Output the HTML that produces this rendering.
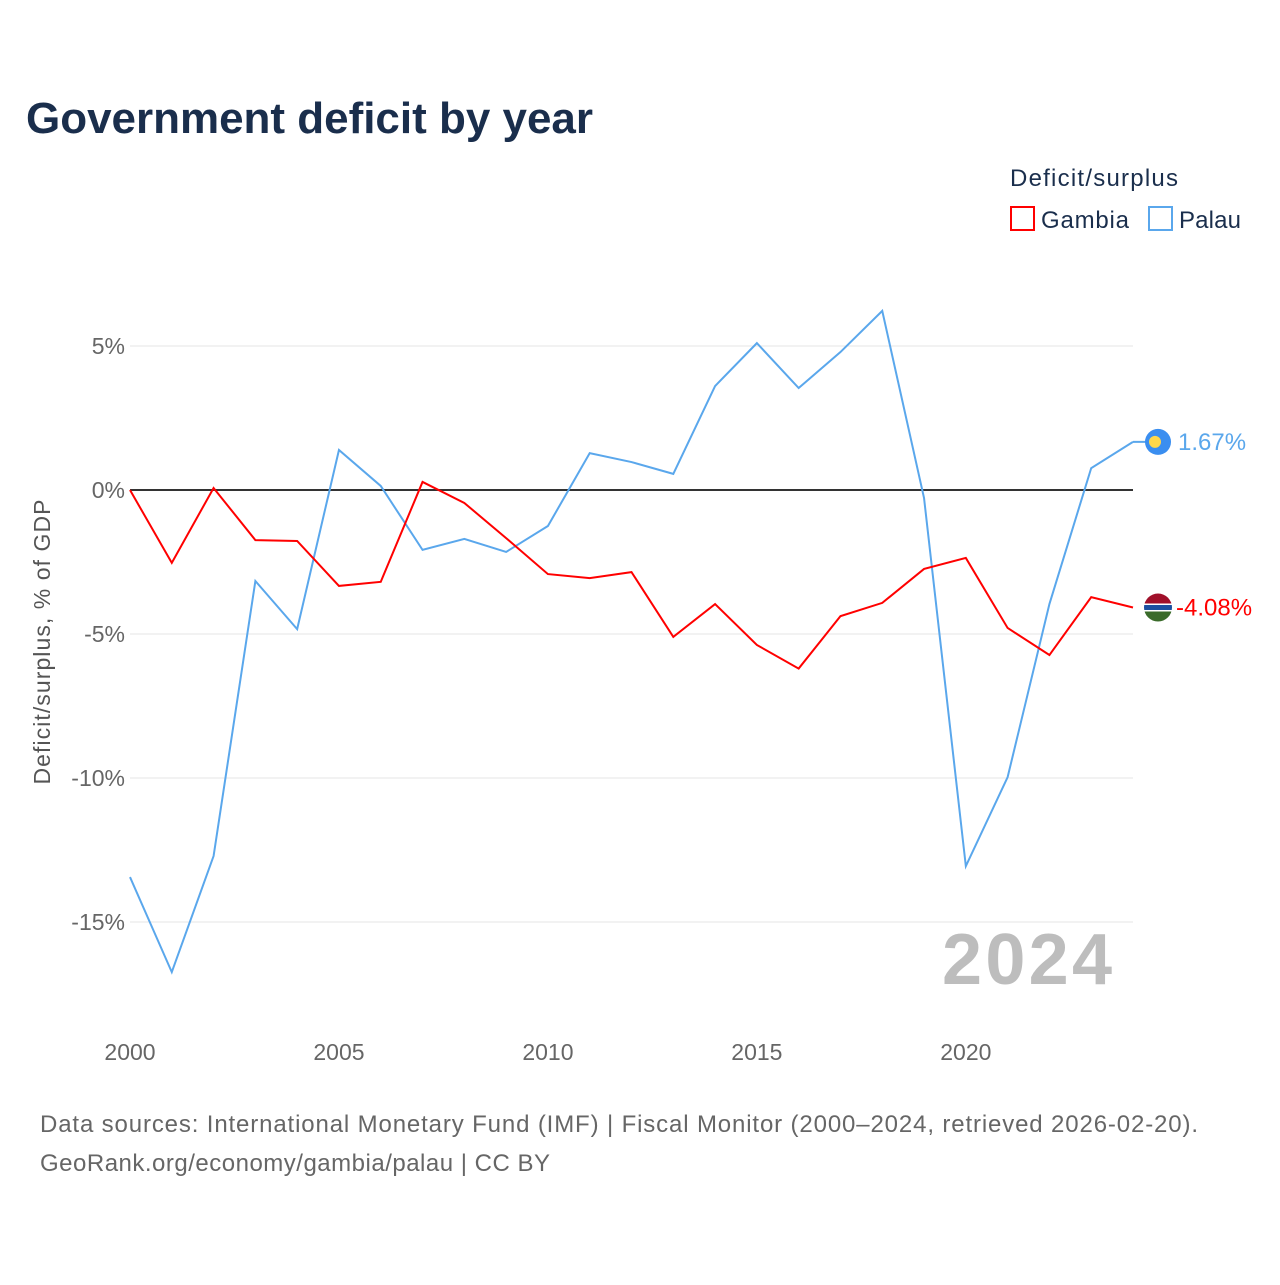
<!DOCTYPE html>
<html><head><meta charset="utf-8"><style>
body{margin:0;background:#fff;font-family:"Liberation Sans",sans-serif;}
svg text{font-family:"Liberation Sans",sans-serif;}
</style></head><body>
<svg id="chart" width="1280" height="1280" viewBox="0 0 1280 1280" xmlns="http://www.w3.org/2000/svg">
<rect width="1280" height="1280" fill="#fff"/>
<text x="26" y="133" font-size="44" font-weight="bold" fill="#1a2e4c" textLength="567">Government deficit by year</text>
<text x="1010" y="186" font-size="24" fill="#1a2e4c" textLength="168">Deficit/surplus</text>
<g><rect x="1011" y="207" width="23" height="23" fill="none" stroke="#f00" stroke-width="2"/><text x="1041" y="228" font-size="24" fill="#1a2e4c" textLength="88">Gambia</text></g>
<g><rect x="1149" y="207" width="23" height="23" fill="none" stroke="#5aa7ec" stroke-width="2"/><text x="1179" y="228" font-size="24" fill="#1a2e4c" textLength="62">Palau</text></g>
<g id="grid"></g><g id="axes"></g><g id="series"></g>
<text x="1112" y="984" font-size="72" font-weight="bold" fill="#bdbdbd" text-anchor="end" textLength="170">2024</text>
<text transform="translate(50,642) rotate(-90)" font-size="23" fill="#555" text-anchor="middle" textLength="285">Deficit/surplus, % of GDP</text>
<text x="40" y="1132" font-size="24" fill="#666" textLength="1158">Data sources: International Monetary Fund (IMF) | Fiscal Monitor (2000–2024, retrieved 2026-02-20).</text>
<text x="40" y="1171" font-size="24" fill="#666" textLength="510">GeoRank.org/economy/gambia/palau | CC BY</text>
</svg>
<script>
const years=[2000,2001,2002,2003,2004,2005,2006,2007,2008,2009,2010,2011,2012,2013,2014,2015,2016,2017,2018,2019,2020,2021,2022,2023,2024];
const gambia=[0,-2.53,0.07,-1.74,-1.77,-3.33,-3.19,0.28,-0.45,-1.67,-2.92,-3.06,-2.85,-5.1,-3.96,-5.38,-6.2,-4.38,-3.92,-2.74,-2.36,-4.79,-5.73,-3.72,-4.08];
const palau=[-13.44,-16.74,-12.71,-3.16,-4.83,1.39,0.14,-2.08,-1.70,-2.15,-1.25,1.28,0.97,0.56,3.61,5.10,3.54,4.79,6.22,-0.28,-13.06,-9.97,-3.96,0.76,1.67];
const yTicks=[5,0,-5,-10,-15];
const xTicks=[2000,2005,2010,2015,2020];
const NS="http://www.w3.org/2000/svg";
const x=v=>130+(v-2000)*(1003/24);
const y=v=>490-v*28.8;
function mk(t,a,p){const e=document.createElementNS(NS,t);for(const k in a)e.setAttribute(k,a[k]);p.appendChild(e);return e;}
const grid=document.getElementById('grid'),axes=document.getElementById('axes'),ser=document.getElementById('series');
yTicks.forEach(t=>{
 const l=mk('line',{x1:130,x2:1133,y1:y(t),y2:y(t),stroke:t===0?'#333':'#e6e6e6','stroke-width':t===0?2:1},grid);
 
 
 const tx=mk('text',{x:125,y:y(t)+8,'font-size':23,fill:'#666','text-anchor':'end'},axes);
 tx.textContent=t+'%';
 
 
});
xTicks.forEach(t=>{
 const tx=mk('text',{x:x(t),y:1060,'font-size':23,fill:'#666','text-anchor':'middle'},axes);
 tx.textContent=t;
 
 
});
function line(data,color,name){
 const p=mk('polyline',{points:data.map((v,i)=>x(years[i])+','+y(v)).join(' '),fill:'none',stroke:color,'stroke-width':2},ser);
 
 
}
line(palau,'#5aa7ec','palau-line');
line(gambia,'#f00','gambia-line');
const last=years.length-1;
let py=y(palau[last]);
mk('line',{x1:x(years[last]),x2:1150,y1:py,y2:py,stroke:'#5aa7ec','stroke-width':2},ser);
let c=mk('circle',{cx:1158,cy:py,r:13,fill:'#3a8ef0'},ser);


mk('circle',{cx:1155,cy:py,r:6,fill:'#ffd84a'},ser);
let t1=mk('text',{x:1178,y:py+8,'font-size':24,fill:'#5aa7ec'},ser);
t1.textContent=palau[last].toFixed(2)+'%';


let gy=y(gambia[last]);
const gG=mk('g',{},ser);


const cpath=mk('clipPath',{id:'gc'},gG);
mk('circle',{cx:1158,cy:gy,r:14},cpath);
const gi=mk('g',{'clip-path':'url(#gc)'},gG);
mk('rect',{x:1144,y:gy-14,width:28,height:10,fill:'#a0102a'},gi);
mk('rect',{x:1144,y:gy-4,width:28,height:8,fill:'#fff'},gi);
mk('rect',{x:1144,y:gy-2.5,width:28,height:5,fill:'#1a4fa0'},gi);
mk('rect',{x:1144,y:gy+4,width:28,height:10,fill:'#3a6b2a'},gi);
let t2=mk('text',{x:1176,y:gy+8,'font-size':24,fill:'#f00'},ser);
t2.textContent=gambia[last].toFixed(2)+'%';


</script>
</body></html>
